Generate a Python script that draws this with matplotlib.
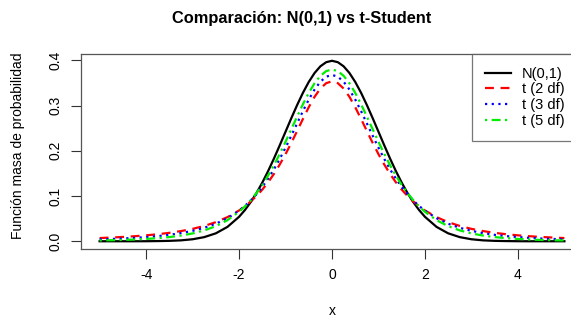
import matplotlib
matplotlib.use("Agg")
import matplotlib.pyplot as plt

plt.rcParams['font.family'] = ['Liberation Sans', 'DejaVu Sans']
plt.rcParams['axes.unicode_minus'] = False

# valores (más puntos cerca del pico)
x = [-5.0, -4.75, -4.5, -4.25, -4.0, -3.75, -3.5, -3.25, -3.0, -2.75, -2.5, -2.25, -2.0,
     -1.875, -1.75, -1.625, -1.5, -1.375, -1.25, -1.125, -1.0,
     -0.875, -0.75, -0.625, -0.5, -0.375, -0.25, -0.125, 0.0,
     0.125, 0.25, 0.375, 0.5, 0.625, 0.75, 0.875,
     1.0, 1.125, 1.25, 1.375, 1.5, 1.625, 1.75, 1.875,
     2.0, 2.25, 2.5, 2.75, 3.0, 3.25, 3.5, 3.75, 4.0, 4.25, 4.5, 4.75, 5.0]

normal = [0.0000, 0.0000, 0.0000, 0.0000, 0.0001, 0.0004, 0.0009, 0.0020, 0.0044, 0.0091, 0.0175, 0.0317, 0.0540,
          0.0688, 0.0863, 0.1065, 0.1295, 0.1550, 0.1826, 0.2119, 0.2420,
          0.2721, 0.3011, 0.3282, 0.3521, 0.3719, 0.3867, 0.3958, 0.3989,
          0.3958, 0.3867, 0.3719, 0.3521, 0.3282, 0.3011, 0.2721,
          0.2420, 0.2119, 0.1826, 0.1550, 0.1295, 0.1065, 0.0863, 0.0688,
          0.0540, 0.0317, 0.0175, 0.0091, 0.0044, 0.0020, 0.0009, 0.0004, 0.0001, 0.0000, 0.0000, 0.0000, 0.0000]

t2 = [0.0071, 0.0082, 0.0095, 0.0111, 0.0131, 0.0155, 0.0186, 0.0225, 0.0274, 0.0338, 0.0422, 0.0533, 0.0680,
      0.0772, 0.0878, 0.1000, 0.1141, 0.1303, 0.1487, 0.1695, 0.1925,
      0.2174, 0.2438, 0.2705, 0.2963, 0.3193, 0.3376, 0.3494, 0.3536,
      0.3494, 0.3376, 0.3193, 0.2963, 0.2705, 0.2438, 0.2174,
      0.1925, 0.1695, 0.1487, 0.1303, 0.1141, 0.1000, 0.0878, 0.0772,
      0.0680, 0.0533, 0.0422, 0.0338, 0.0274, 0.0225, 0.0186, 0.0155, 0.0131, 0.0111, 0.0095, 0.0082, 0.0071]

t3 = [0.0042, 0.0051, 0.0061, 0.0075, 0.0092, 0.0114, 0.0142, 0.0180, 0.0230, 0.0297, 0.0387, 0.0509, 0.0675,
      0.0779, 0.0900, 0.1040, 0.1200, 0.1383, 0.1589, 0.1818, 0.2067,
      0.2333, 0.2606, 0.2877, 0.3132, 0.3354, 0.3527, 0.3638, 0.3676,
      0.3638, 0.3527, 0.3354, 0.3132, 0.2877, 0.2606, 0.2333,
      0.2067, 0.1818, 0.1589, 0.1383, 0.1200, 0.1040, 0.0900, 0.0779,
      0.0675, 0.0509, 0.0387, 0.0297, 0.0230, 0.0180, 0.0142, 0.0114, 0.0092, 0.0075, 0.0061, 0.0051, 0.0042]

t5 = [0.0018, 0.0023, 0.0029, 0.0039, 0.0051, 0.0069, 0.0092, 0.0126, 0.0173, 0.0239, 0.0333, 0.0466, 0.0651,
      0.0768, 0.0905, 0.1064, 0.1245, 0.1450, 0.1679, 0.1929, 0.2197,
      0.2476, 0.2757, 0.3029, 0.3279, 0.3493, 0.3657, 0.3761, 0.3796,
      0.3761, 0.3657, 0.3493, 0.3279, 0.3029, 0.2757, 0.2476,
      0.2197, 0.1929, 0.1679, 0.1450, 0.1245, 0.1064, 0.0905, 0.0768,
      0.0651, 0.0466, 0.0333, 0.0239, 0.0173, 0.0126, 0.0092, 0.0069, 0.0051, 0.0039, 0.0029, 0.0023, 0.0018]

labels = ["N(0,1)", "t (2 df)", "t (3 df)", "t (5 df)"]

fig = plt.figure(figsize=(5.71, 3.2), dpi=100)
# el área del gráfico sigue más allá del borde derecho (recortado)
ax = fig.add_axes([81 / 571, 71.5 / 320, 502 / 571, 195 / 320])

ax.plot(x, normal, color="black", lw=1.6, label=labels[0])
ax.plot(x, t2, color="red", lw=1.6, dashes=(4, 3), label=labels[1])
ax.plot(x, t3, color="blue", lw=1.6, dashes=(1, 2), label=labels[2])
ax.plot(x, t5, color="#00ee00", lw=1.6, dashes=(1, 2, 4, 2), label=labels[3])

ax.set_xlim(-5.4, 5.4)
ax.set_ylim(-0.016, 0.415)
ax.set_xticks([-4, -2, 0, 2, 4])
ax.set_yticks([0.0, 0.1, 0.2, 0.3, 0.4])
ax.set_yticklabels(["0.0", "0.1", "0.2", "0.3", "0.4"], rotation=90, va="center")
ax.tick_params(length=7, width=0.8, labelsize=10, color="#333333")
ax.tick_params(axis="x", pad=7)
ax.tick_params(axis="y", pad=6)
for s in ax.spines.values():
    s.set_color("#555555")
    s.set_linewidth(0.9)

ax.set_xlabel("x", fontsize=10, labelpad=16)
fig.text(18 / 571, 1 - 146 / 320, "Función masa de probabilidad", rotation=90,
         ha="center", va="center", fontsize=10)
fig.text(302 / 571, 1 - 19 / 320, "Comparación: N(0,1) vs t-Student",
         ha="center", va="center", fontsize=11.8, fontweight="bold")

leg = ax.legend(loc="upper left", bbox_to_anchor=((472 - 81) / 502, 1.0),
                fontsize=10.5, frameon=True, fancybox=False, borderaxespad=0,
                handlelength=1.8, handletextpad=0.7, labelspacing=0.12,
                borderpad=0.9)
leg.get_frame().set_edgecolor("#555555")
leg.get_frame().set_linewidth(0.9)

fig.savefig("out.png", dpi=100)
